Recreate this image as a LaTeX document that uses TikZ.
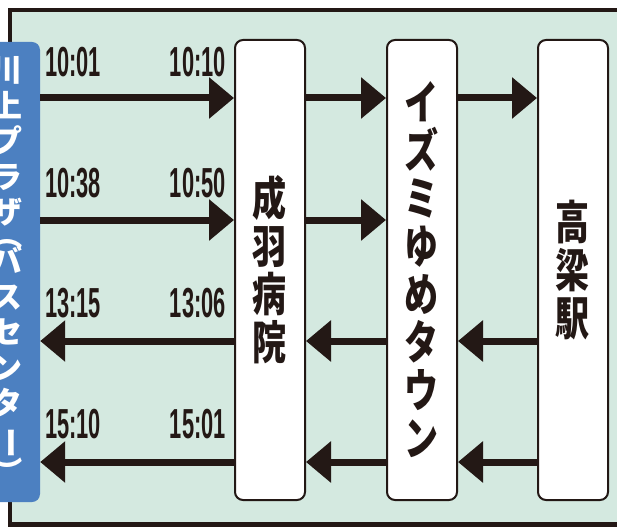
\documentclass[tikz,border=0pt]{standalone}
\usepackage{fontspec}
\usepackage{tikz}
\usetikzlibrary{arrows.meta}
\newfontfamily\jpfont{Noto Sans CJK JP}[FakeStretch=0.74]
\newfontfamily\jpbusfont{Noto Sans CJK JP}
\newfontfamily\timefont{Liberation Sans}[FakeStretch=0.52]
\definecolor{mint}{RGB}{212,233,224}
\definecolor{busblue}{RGB}{76,128,193}
\definecolor{ink}{RGB}{35,24,21}
\newcommand{\vchar}[1]{\rotatebox[origin=c]{-90}{#1}}

\begin{document}
\begin{tikzpicture}[x=1pt,y=-1pt, inner sep=0pt, >={Triangle[length=25pt,width=40pt]},
  stop/.style={rectangle, rounded corners=8pt, draw=ink, line width=2pt, fill=white,
    minimum width=70pt, minimum height=460pt, align=center, text=ink,
    font=\jpfont\bfseries\fontsize{46}{48}\selectfont},
  busbox/.style={rectangle, rounded corners=8pt, fill=busblue, minimum width=66pt,
    minimum height=460pt, align=center, text=white,
    font=\jpbusfont\bfseries\fontsize{31}{35.5}\selectfont},
  time/.style={text=ink, font=\timefont\bfseries\fontsize{42}{42}\selectfont},
  arr/.style={->, draw=ink, line width=7pt}]
\clip (0,0) rectangle (617,529);
\draw[draw=ink, fill=mint, line width=4.5pt] (10,10) rectangle (660,524.5);

\node[busbox] (kawakami) at (7,272) {川\\上\\プ\\ラ\\ザ\\[-12pt]\vchar{（}\\[-10pt]バ\\ス\\セ\\ン\\タ\\\vchar{ー}\\[-2pt]\vchar{）}};
\node[stop] (nariwa) at (270,270) {成\\羽\\病\\院};
\node[stop] (izumi) at (422,270) {イ\\ズ\\ミ\\ゆ\\め\\タ\\ウ\\ン};
\node[stop] (takahashi) at (573,270) {高\\梁\\駅};

\coordinate (r1) at (0,98);
\coordinate (r2) at (0,220);
\coordinate (r3) at (0,341);
\coordinate (r4) at (0,462);

\draw[arr] (kawakami.east |- r1) -- (nariwa.west |- r1);
\draw[arr] (nariwa.east |- r1) -- (izumi.west |- r1);
\draw[arr] (izumi.east |- r1) -- (takahashi.west |- r1);
\draw[arr] (kawakami.east |- r2) -- (nariwa.west |- r2);
\draw[arr] (nariwa.east |- r2) -- (izumi.west |- r2);
\draw[arr] (takahashi.west |- r3) -- (izumi.east |- r3);
\draw[arr] (izumi.west |- r3) -- (nariwa.east |- r3);
\draw[arr] (nariwa.west |- r3) -- (kawakami.east |- r3);
\draw[arr] (takahashi.west |- r4) -- (izumi.east |- r4);
\draw[arr] (izumi.west |- r4) -- (nariwa.east |- r4);
\draw[arr] (nariwa.west |- r4) -- (kawakami.east |- r4);

\node[time, anchor=base west] (dep1) at (45,77) {10:01};
\node[time, anchor=base east] (arr1) at (226,77) {10:10};
\node[time, anchor=base west] (dep2) at (45,197) {10:38};
\node[time, anchor=base east] (arr2) at (226,197) {10:50};
\node[time, anchor=base west] (arr3) at (45,317) {13:15};
\node[time, anchor=base east] (dep3) at (226,317) {13:06};
\node[time, anchor=base west] (arr4) at (45,438) {15:10};
\node[time, anchor=base east] (dep4) at (226,438) {15:01};
\end{tikzpicture}
\end{document}
